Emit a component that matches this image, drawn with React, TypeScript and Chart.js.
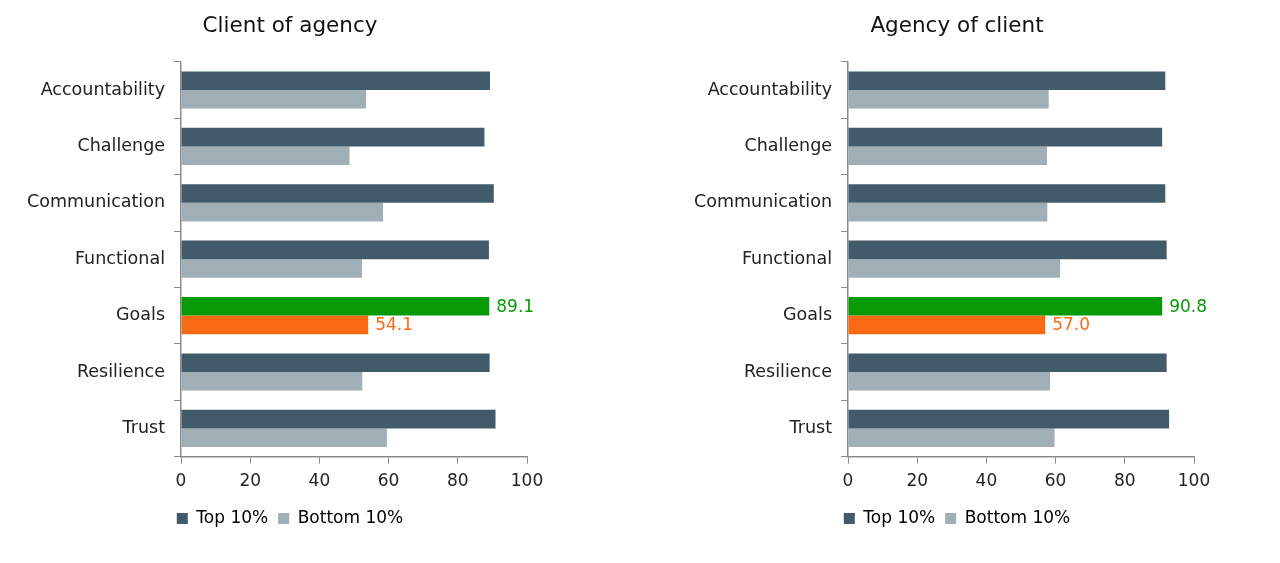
import React, { useEffect, useRef } from "react";
import { Chart, registerables } from "chart.js";

Chart.register(...registerables);

const categories = ["Accountability", "Challenge", "Communication", "Functional", "Goals", "Resilience", "Trust"];
const clientTop = [89.3, 87.7, 90.4, 89.0, 89.1, 89.2, 90.9];
const clientBottom = [53.5, 48.7, 58.4, 52.3, 54.1, 52.4, 59.5];
const agencyTop = [91.7, 90.8, 91.7, 92.1, 90.8, 92.1, 92.8];
const agencyBottom = [58.0, 57.5, 57.6, 61.3, 57.0, 58.4, 59.7];
const xTicks = [0, 20, 40, 60, 80, 100];
const highlightIndex = 4;

const FONT = "'DejaVu Sans', sans-serif";
const DARK = "#415b6b";
const LIGHT = "#a0aeb6";
const GREEN = "#079a07";
const ORANGE = "#fa6a14";

const goalLabels = {
  id: "goalLabels",
  afterDatasetsDraw(chart: any) {
    const ctx = chart.ctx;
    ctx.save();
    ctx.font = `17px ${FONT}`;
    ctx.textBaseline = "middle";
    ctx.textAlign = "left";
    chart.data.datasets.forEach((ds: any, di: number) => {
      const meta = chart.getDatasetMeta(di);
      const el = meta.data[highlightIndex];
      if (!el) return;
      ctx.fillStyle = di === 0 ? GREEN : ORANGE;
      ctx.fillText(Number(ds.data[highlightIndex]).toFixed(1), el.x + 7, el.y + 1);
    });
    ctx.restore();
  },
};

function makeColors(base: string, hi: string) {
  return categories.map((_, i) => (i === highlightIndex ? hi : base));
}

function BarPanel({ title, top, bottom, left }: { title: string; top: number[]; bottom: number[]; left: number }) {
  const ref = useRef<HTMLCanvasElement>(null);
  useEffect(() => {
    if (!ref.current) return;
    const chart = new Chart(ref.current, {
      type: "bar",
      data: {
        labels: categories,
        datasets: [
          {
            label: "Top 10%",
            data: top,
            backgroundColor: makeColors(DARK, GREEN),
            categoryPercentage: 0.66,
            barPercentage: 1.0,
          },
          {
            label: "Bottom 10%",
            data: bottom,
            backgroundColor: makeColors(LIGHT, ORANGE),
            categoryPercentage: 0.66,
            barPercentage: 1.0,
          },
        ],
      },
      options: {
        indexAxis: "y",
        animation: false,
        responsive: false,
        devicePixelRatio: 1,
        layout: { padding: { left: 53, right: 53, top: 0, bottom: 26 } },
        scales: {
          x: {
            min: 0,
            max: 100,
            afterBuildTicks: (axis: any) => {
              axis.ticks = xTicks.map((v) => ({ value: v }));
            },
            grid: { display: true, drawOnChartArea: false, drawTicks: true, tickLength: 7, color: "#8a8a8a" },
            border: { display: true, color: "#8a8a8a", width: 1.5 },
            ticks: { color: "#222", font: { family: FONT, size: 17 }, padding: 8 },
          },
          y: {
            afterFit: (axis: any) => {
              axis.width = 128;
              axis._computeLabelArea = () => undefined;
            },
            grid: { display: true, drawOnChartArea: false, drawTicks: true, tickLength: 7, color: "#8a8a8a", offset: true },
            border: { display: true, color: "#8a8a8a", width: 1.5 },
            ticks: { color: "#222", font: { family: FONT, size: 17.5 }, padding: 9 },
          },
        },
        plugins: {
          title: {
            display: true,
            text: title,
            color: "#111",
            font: { family: FONT, size: 21.5, weight: "normal" },
            padding: { top: 14, bottom: 22 },
          },
          legend: {
            display: true,
            position: "bottom",
            labels: {
              color: "#222",
              font: { family: FONT, size: 17 },
              boxWidth: 11,
              boxHeight: 11,
              padding: 10,
              generateLabels: () => [
                { text: "Top 10%", fillStyle: DARK, strokeStyle: DARK, lineWidth: 0, datasetIndex: 0 },
                { text: "Bottom 10%", fillStyle: LIGHT, strokeStyle: LIGHT, lineWidth: 0, datasetIndex: 1 },
              ],
            },
          },
          tooltip: { enabled: false },
        },
      },
      plugins: [goalLabels],
    });
    return () => chart.destroy();
  }, []);
  return (
    <canvas
      ref={ref}
      width={580}
      height={563}
      style={{ position: "absolute", left, top: 0, width: 580, height: 563 }}
    />
  );
}

export default function App() {
  return (
    <div style={{ position: "fixed", left: 0, top: 0, width: 1280, height: 563, background: "#fff", overflow: "hidden" }}>
      <BarPanel title="Client of agency" top={clientTop} bottom={clientBottom} left={0} />
      <BarPanel title="Agency of client" top={agencyTop} bottom={agencyBottom} left={667} />
    </div>
  );
}
